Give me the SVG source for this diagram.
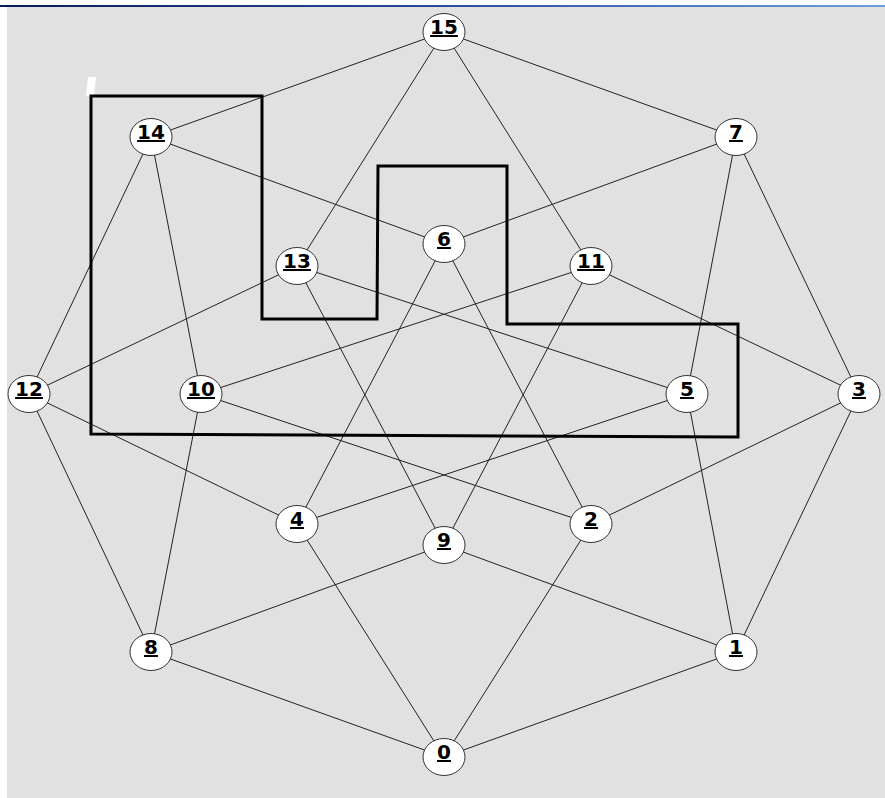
<svg xmlns="http://www.w3.org/2000/svg" width="885" height="798" viewBox="0 0 885 798">
<defs>
<linearGradient id="tb" x1="0" y1="0" x2="1" y2="0">
<stop offset="0" stop-color="#0a1a5a"/>
<stop offset="0.5" stop-color="#2a4a9a"/>
<stop offset="1" stop-color="#6aa0dc"/>
</linearGradient>
<style>
.e{stroke:#222;stroke-width:1;fill:none}
.n ellipse{fill:#fff;stroke:#333;stroke-width:1}
.n text{font-family:"DejaVu Sans","Liberation Sans",sans-serif;font-weight:bold;font-size:20px;text-anchor:middle;text-decoration:underline;fill:#000}
.p{fill:none;stroke:#000;stroke-width:3;stroke-linejoin:miter}
</style>
</defs>
<rect x="0" y="0" width="885" height="798" fill="#fff"/>
<rect x="7" y="6" width="878" height="792" fill="#e1e1e1"/>
<rect x="0" y="5" width="885" height="2" fill="url(#tb)"/>
<polygon points="88,77 96,77 94,96 86,96" fill="#fff"/>
<g id="connectors">
<line class="e" x1="444" y1="757" x2="736" y2="652"/>
<line class="e" x1="444" y1="757" x2="591" y2="524"/>
<line class="e" x1="444" y1="757" x2="297" y2="524"/>
<line class="e" x1="444" y1="757" x2="151" y2="652"/>
<line class="e" x1="736" y1="652" x2="859" y2="394"/>
<line class="e" x1="736" y1="652" x2="687" y2="394"/>
<line class="e" x1="736" y1="652" x2="444" y2="545"/>
<line class="e" x1="591" y1="524" x2="859" y2="394"/>
<line class="e" x1="591" y1="524" x2="444" y2="244"/>
<line class="e" x1="591" y1="524" x2="201" y2="394"/>
<line class="e" x1="859" y1="394" x2="736" y2="137"/>
<line class="e" x1="859" y1="394" x2="591" y2="266"/>
<line class="e" x1="297" y1="524" x2="687" y2="394"/>
<line class="e" x1="297" y1="524" x2="444" y2="244"/>
<line class="e" x1="297" y1="524" x2="29" y2="394"/>
<line class="e" x1="687" y1="394" x2="736" y2="137"/>
<line class="e" x1="687" y1="394" x2="297" y2="266"/>
<line class="e" x1="444" y1="244" x2="736" y2="137"/>
<line class="e" x1="444" y1="244" x2="151" y2="137"/>
<line class="e" x1="736" y1="137" x2="444" y2="32"/>
<line class="e" x1="151" y1="652" x2="444" y2="545"/>
<line class="e" x1="151" y1="652" x2="201" y2="394"/>
<line class="e" x1="151" y1="652" x2="29" y2="394"/>
<line class="e" x1="444" y1="545" x2="591" y2="266"/>
<line class="e" x1="444" y1="545" x2="297" y2="266"/>
<line class="e" x1="201" y1="394" x2="591" y2="266"/>
<line class="e" x1="201" y1="394" x2="151" y2="137"/>
<line class="e" x1="591" y1="266" x2="444" y2="32"/>
<line class="e" x1="29" y1="394" x2="297" y2="266"/>
<line class="e" x1="29" y1="394" x2="151" y2="137"/>
<line class="e" x1="297" y1="266" x2="444" y2="32"/>
<line class="e" x1="151" y1="137" x2="444" y2="32"/>
</g>
<polygon id="path" class="p" points="91,96 262,96 262,319 377,319 378,166 507,166 507,324 738,324 738,437 91,434"/>
<g id="n0" class="n"><ellipse cx="444" cy="757" rx="21" ry="18.5"/><text x="444" y="759">0</text></g>
<g id="n1" class="n"><ellipse cx="736" cy="652" rx="21" ry="18.5"/><text x="736" y="654">1</text></g>
<g id="n2" class="n"><ellipse cx="591" cy="524" rx="21" ry="18.5"/><text x="591" y="526">2</text></g>
<g id="n3" class="n"><ellipse cx="859" cy="394" rx="21" ry="18.5"/><text x="859" y="396">3</text></g>
<g id="n4" class="n"><ellipse cx="297" cy="524" rx="21" ry="18.5"/><text x="297" y="526">4</text></g>
<g id="n5" class="n"><ellipse cx="687" cy="394" rx="21" ry="18.5"/><text x="687" y="396">5</text></g>
<g id="n6" class="n"><ellipse cx="444" cy="244" rx="21" ry="18.5"/><text x="444" y="246">6</text></g>
<g id="n7" class="n"><ellipse cx="736" cy="137" rx="21" ry="18.5"/><text x="736" y="139">7</text></g>
<g id="n8" class="n"><ellipse cx="151" cy="652" rx="21" ry="18.5"/><text x="151" y="654">8</text></g>
<g id="n9" class="n"><ellipse cx="444" cy="545" rx="21" ry="18.5"/><text x="444" y="547">9</text></g>
<g id="n10" class="n"><ellipse cx="201" cy="394" rx="21" ry="18.5"/><text x="201" y="396">10</text></g>
<g id="n11" class="n"><ellipse cx="591" cy="266" rx="21" ry="18.5"/><text x="591" y="268">11</text></g>
<g id="n12" class="n"><ellipse cx="29" cy="394" rx="21" ry="18.5"/><text x="29" y="396">12</text></g>
<g id="n13" class="n"><ellipse cx="297" cy="266" rx="21" ry="18.5"/><text x="297" y="268">13</text></g>
<g id="n14" class="n"><ellipse cx="151" cy="137" rx="21" ry="18.5"/><text x="151" y="139">14</text></g>
<g id="n15" class="n"><ellipse cx="444" cy="32" rx="21" ry="18.5"/><text x="444" y="34">15</text></g>
</svg>
